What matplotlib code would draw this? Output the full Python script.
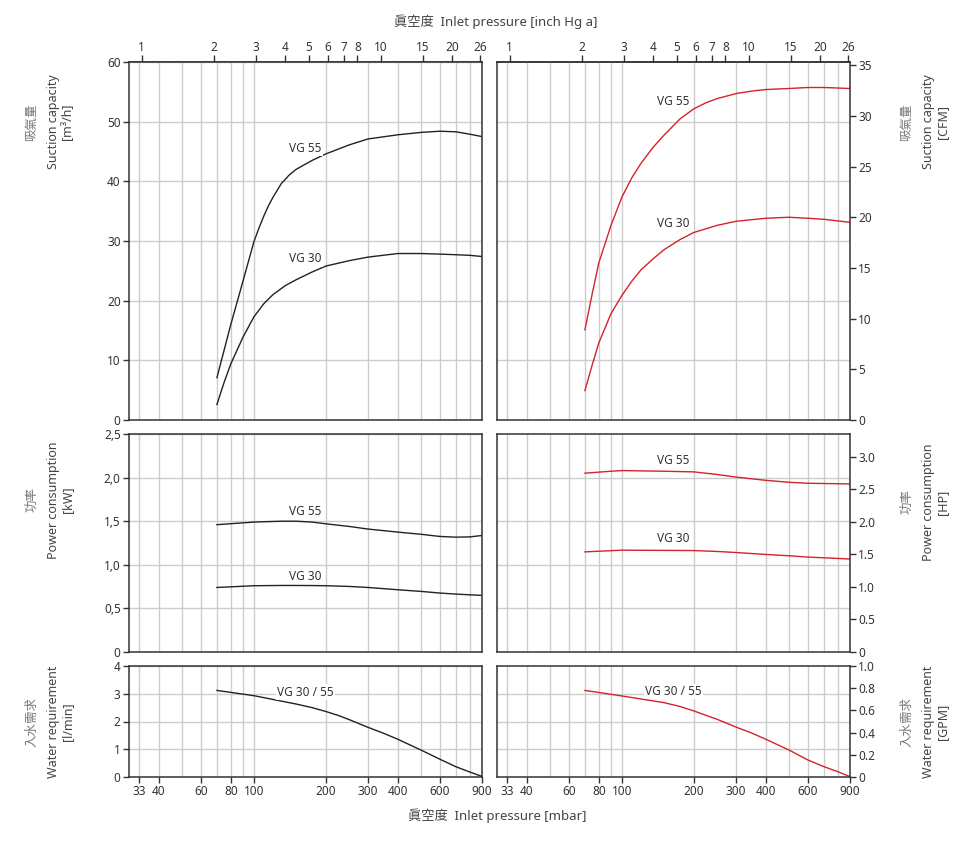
import matplotlib.pyplot as plt
from matplotlib.ticker import NullLocator

plt.rcParams['font.family'] = ['Noto Sans', 'Noto Sans CJK TC', 'DejaVu Sans']

MBAR_PER_INHG = 33.86

# x axis ticks
mbar_ticks = [33, 40, 60, 80, 100, 200, 300, 400, 600, 900]
mbar_minor = [50, 70, 90, 500, 700, 800]
inhg_ticks = [1, 2, 3, 4, 5, 6, 7, 8, 10, 15, 20, 26]

# suction capacity, left [m3/h]
p_suc55_l = [70, 80, 90, 100, 105, 110, 115, 120, 130, 140, 150, 175, 200, 250, 300, 400,
             500, 600, 700, 800, 900]
suc55_l = [7.1, 16.0, 23.3, 29.9, 32.2, 34.2, 35.9, 37.3, 39.6, 41.0, 42.0, 43.5, 44.6, 46.1,
           47.1, 47.8, 48.2, 48.4, 48.3, 47.9, 47.5]
p_suc30_l = [70, 75, 80, 90, 100, 110, 120, 135, 150, 175, 200, 250, 300, 400, 500, 600,
             700, 800, 900]
suc30_l = [2.6, 6.3, 9.4, 13.9, 17.3, 19.5, 21.0, 22.5, 23.5, 24.8, 25.8, 26.7, 27.3, 27.9,
           27.9, 27.8, 27.7, 27.6, 27.4]

# suction capacity, right [CFM]
p_suc55_r = [70, 75, 80, 90, 100, 110, 120, 135, 150, 175, 200, 225, 250, 300, 350, 400,
             500, 600, 700, 900]
suc55_r = [8.9, 12.4, 15.5, 19.2, 22.0, 23.9, 25.3, 26.9, 28.1, 29.7, 30.7, 31.3, 31.7, 32.2,
           32.45, 32.6, 32.7, 32.8, 32.8, 32.7]
p_suc30_r = [70, 75, 80, 90, 100, 110, 120, 135, 150, 175, 200, 250, 300, 400, 500, 600,
             700, 900]
suc30_r = [2.9, 5.4, 7.6, 10.5, 12.3, 13.7, 14.8, 15.9, 16.8, 17.8, 18.5, 19.2, 19.6, 19.9,
           20.0, 19.9, 19.8, 19.5]

# power consumption, left [kW]
p_pow_l = [70, 100, 130, 150, 175, 200, 250, 300, 400, 500, 600, 700, 800, 900]
pow55_l = [1.46, 1.49, 1.50, 1.50, 1.49, 1.47, 1.44, 1.41, 1.375, 1.35, 1.325, 1.317, 1.32,
           1.336]
pow30_l = [0.74, 0.76, 0.763, 0.763, 0.762, 0.76, 0.752, 0.74, 0.714, 0.695, 0.676, 0.664,
           0.656, 0.649]

# power consumption, right [HP]
p_pow55_r = [70, 90, 100, 150, 200, 250, 300, 400, 500, 600, 900]
pow55_r = [2.75, 2.78, 2.79, 2.78, 2.77, 2.73, 2.69, 2.64, 2.61, 2.595, 2.585]
p_pow30_r = [70, 100, 200, 250, 300, 400, 500, 600, 900]
pow30_r = [1.54, 1.566, 1.56, 1.546, 1.53, 1.50, 1.48, 1.46, 1.43]

# water requirement
p_wat = [70, 100, 150, 175, 200, 225, 250, 300, 350, 400, 500, 600, 700, 800, 900]
wat_l = [3.12, 2.93, 2.63, 2.50, 2.36, 2.22, 2.07, 1.79, 1.57, 1.36, 0.97, 0.64, 0.37, 0.18,
         0.02]
wat_r = [0.78, 0.73, 0.67, 0.635, 0.595, 0.555, 0.52, 0.45, 0.395, 0.34, 0.243, 0.153, 0.093,
         0.048, 0.003]

W, H = 968, 865
fig = plt.figure(figsize=(W / 100, H / 100), dpi=100)

cols = [(129, 482), (497, 850)]
rows = [(62, 420), (434, 652), (666, 777)]
BLACK = '#222222'
RED = '#d3232b'
GRID = '#cccccc'
TXT = '#333333'


def make_ax(c, r):
    x0, x1 = cols[c]
    y0, y1 = rows[r]
    ax = fig.add_axes([x0 / W, 1 - y1 / H, (x1 - x0) / W, (y1 - y0) / H])
    ax.set_xscale('log')
    ax.set_xlim(30, 900)
    ax.set_xticks(mbar_ticks, labels=[str(v) for v in mbar_ticks])
    ax.set_xticks(mbar_minor, minor=True)
    ax.xaxis.set_minor_formatter(plt.NullFormatter())
    ax.grid(True, which='both', axis='x', color=GRID, lw=1)
    ax.tick_params(axis='x', which='minor', length=0)
    ax.tick_params(axis='both', which='major', length=4, width=1, color=TXT,
                   labelsize=8.5, labelcolor=TXT, pad=2)
    ax.set_axisbelow(True)
    for s in ax.spines.values():
        s.set_color(TXT)
        s.set_linewidth(1.1)
    if r < 2:
        ax.tick_params(axis='x', which='both', length=0, labelbottom=False)
    if r == 0:
        sec = ax.secondary_xaxis('top', functions=(lambda x: x / MBAR_PER_INHG,
                                                   lambda x: x * MBAR_PER_INHG))
        sec.set_xticks(inhg_ticks, labels=[str(v) for v in inhg_ticks])
        sec.xaxis.set_minor_locator(NullLocator())
        sec.tick_params(length=5, width=1, color=TXT, labelsize=8.5, labelcolor=TXT, pad=1)
        sec.spines['top'].set_color(TXT)
        sec.spines['top'].set_linewidth(1.1)
    return ax


def left_y(ax, top, ticks, labels):
    ax.set_ylim(0, top)
    ax.set_yticks(ticks, labels=labels)
    ax.grid(True, which='major', axis='y', color=GRID, lw=1)


def right_y(ax, top, ticks, labels, n_grid):
    ax.set_ylim(0, top)
    ax.yaxis.tick_right()
    ax.set_yticks(ticks, labels=labels)
    ax.set_yticks([top * k / n_grid for k in range(1, n_grid)], minor=True)
    ax.yaxis.set_minor_formatter(plt.NullFormatter())
    ax.grid(True, which='minor', axis='y', color=GRID, lw=1)
    ax.tick_params(axis='y', which='minor', length=0)


def tag(ax, x, y, s):
    ax.text(x, y, s, ha='center', va='center', fontsize=8.5, color=TXT,
            bbox=dict(facecolor='white', edgecolor='none', pad=1))


# suction capacity
ax = make_ax(0, 0)
left_y(ax, 60, range(0, 61, 10), [str(v) for v in range(0, 61, 10)])
ax.plot(p_suc55_l, suc55_l, color=BLACK, lw=1)
ax.plot(p_suc30_l, suc30_l, color=BLACK, lw=1)
tag(ax, 164, 45.5, 'VG 55')
tag(ax, 164, 27.0, 'VG 30')

ax = make_ax(1, 0)
right_y(ax, 60 / 1.699, range(0, 36, 5), [str(v) for v in range(0, 36, 5)], 6)
ax.plot(p_suc55_r, suc55_r, color=RED, lw=1)
ax.plot(p_suc30_r, suc30_r, color=RED, lw=1)
tag(ax, 164, 31.4, 'VG 55')
tag(ax, 164, 19.4, 'VG 30')

# power consumption
ax = make_ax(0, 1)
left_y(ax, 2.5, [0, 0.5, 1.0, 1.5, 2.0, 2.5], ['0', '0,5', '1,0', '1,5', '2,0', '2,5'])
ax.plot(p_pow_l, pow55_l, color=BLACK, lw=1)
ax.plot(p_pow_l, pow30_l, color=BLACK, lw=1)
tag(ax, 164, 1.61, 'VG 55')
tag(ax, 164, 0.87, 'VG 30')

ax = make_ax(1, 1)
right_y(ax, 2.5 / 0.7457, [0, 0.5, 1.0, 1.5, 2.0, 2.5, 3.0],
        ['0', '0.5', '1.0', '1.5', '2.0', '2.5', '3.0'], 5)
ax.plot(p_pow55_r, pow55_r, color=RED, lw=1)
ax.plot(p_pow30_r, pow30_r, color=RED, lw=1)
tag(ax, 164, 2.95, 'VG 55')
tag(ax, 164, 1.74, 'VG 30')

# water requirement
ax = make_ax(0, 2)
left_y(ax, 4, range(0, 5), [str(v) for v in range(0, 5)])
ax.plot(p_wat, wat_l, color=BLACK, lw=1)
tag(ax, 164, 3.06, 'VG 30 / 55')

ax = make_ax(1, 2)
right_y(ax, 1.0, [0, 0.2, 0.4, 0.6, 0.8, 1.0], ['0', '0.2', '0.4', '0.6', '0.8', '1.0'], 4)
ax.plot(p_wat, wat_r, color=RED, lw=1)
tag(ax, 164, 0.77, 'VG 30 / 55')


def side_label(x, y, cn, en):
    fig.text((x - 19) / W, 1 - y / H, cn, rotation=90, ha='center', va='center',
             fontsize=9, color='#777777')
    fig.text((x + 9.5) / W, 1 - y / H, en, rotation=90, ha='center', va='center',
             fontsize=9, color='#444444', multialignment='center', linespacing=1.1)


side_label(51, 122, '吸氣量', 'Suction capacity\n[m³/h]')
side_label(51, 500, '功率', 'Power consumption\n[kW]')
side_label(51, 722, '入水需求', 'Water requirement\n[l/min]')
side_label(926, 122, '吸氣量', 'Suction capacity\n[CFM]')
side_label(926, 502, '功率', 'Power consumption\n[HP]')
side_label(926, 722, '入水需求', 'Water requirement\n[GPM]')

fig.text(496 / W, 1 - 22 / H, '眞空度  Inlet pressure [inch Hg a]', ha='center', va='center',
         fontsize=9.5, color='#444444')
fig.text(497 / W, 1 - 816 / H, '眞空度  Inlet pressure [mbar]', ha='center', va='center',
         fontsize=9.5, color='#444444')

fig.savefig('out.png', dpi=100, facecolor='white')
